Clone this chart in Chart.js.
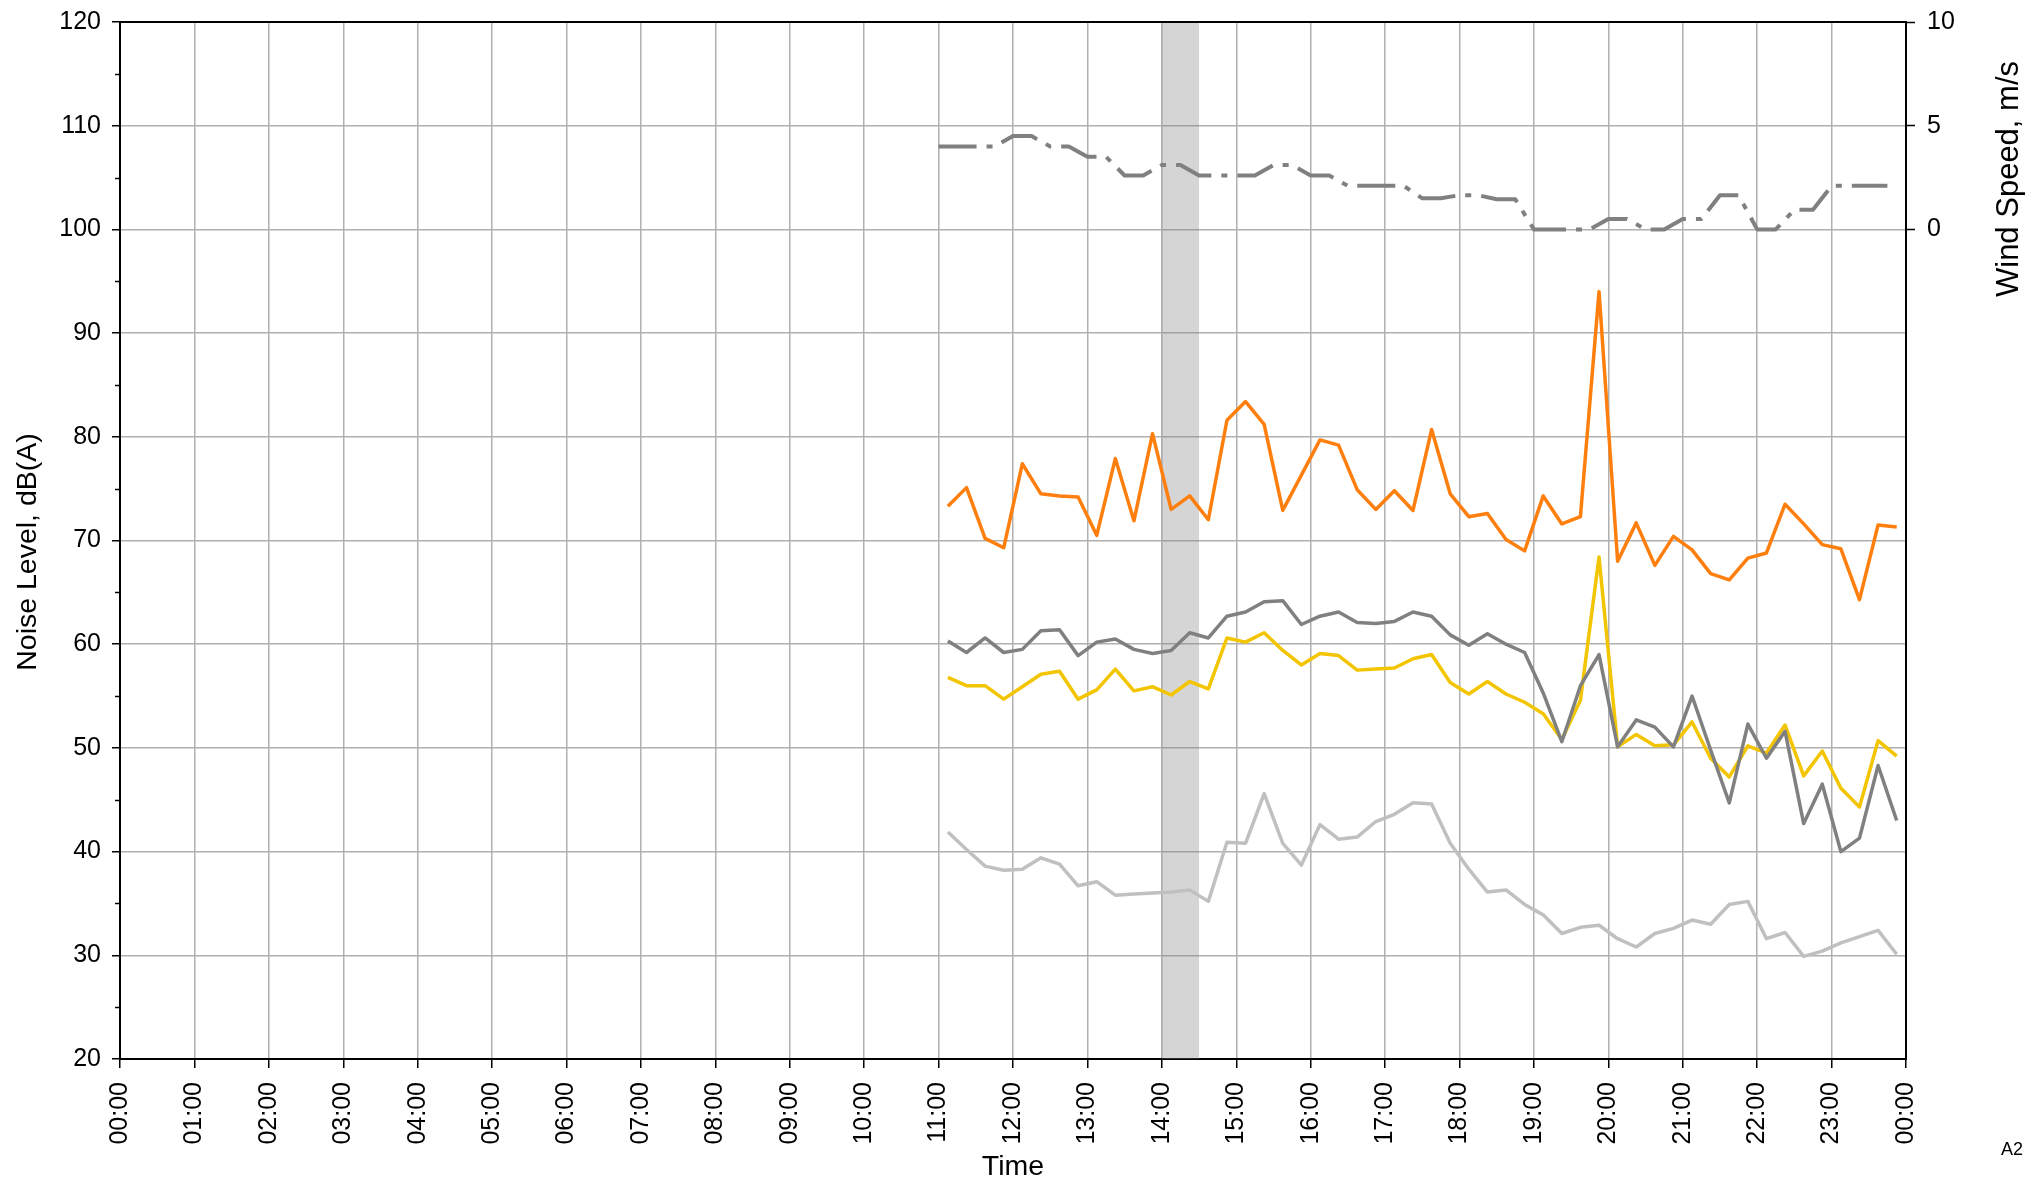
<!DOCTYPE html>
<html>
<head>
<meta charset="utf-8">
<script src="https://cdn.jsdelivr.net/npm/chart.js@4.4.1/dist/chart.umd.min.js"></script>
<style>
  body { margin: 0; background: #fff; }
  #wrap { position: relative; width: 2025px; height: 1180px; }
  #tag { position: absolute; left: 2001px; top: 1139px; font: 18px "Liberation Sans", Arial, sans-serif; color: #000; }
</style>
</head>
<body>
<div id="wrap">
  <canvas id="noiseChart" width="2025" height="1180"></canvas>
  <div id="tag">A2</div>
</div>
<script>
// hour tick labels along the time axis
const tickLabels = ["00:00", "01:00", "02:00", "03:00", "04:00", "05:00", "06:00", "07:00",
  "08:00", "09:00", "10:00", "11:00", "12:00", "13:00", "14:00", "15:00", "16:00",
  "17:00", "18:00", "19:00", "20:00", "21:00", "22:00", "23:00", "00:00"];

// 15 minute intervals, noise centred at 11:07:30, wind logged on the quarter hour
const noiseStart = 11.125;
const windStart = 11.0;
const stepHours = 0.25;

// dB(A)
const laMax = [73.3, 75.1, 70.2, 69.3, 77.4, 74.5, 74.3, 74.2, 70.5, 77.9, 71.9, 80.3, 73.0, 74.3, 72.0, 81.6, 83.4, 81.2,
  72.9, 76.3, 79.7, 79.2, 74.9, 73.0, 74.8, 72.9, 80.7, 74.5, 72.3, 72.6, 70.1, 69.0, 74.3, 71.6, 72.3,
  94.0, 68.0, 71.7, 67.6, 70.4, 69.1, 66.8, 66.2, 68.3, 68.8, 73.5, 71.6, 69.6, 69.2, 64.3, 71.5, 71.3];
const laEq = [60.3, 59.2, 60.6, 59.2, 59.5, 61.3, 61.4, 58.9, 60.2, 60.5, 59.5, 59.1, 59.4, 61.1, 60.6, 62.7, 63.1, 64.1,
  64.2, 61.9, 62.7, 63.1, 62.1, 62.0, 62.2, 63.1, 62.7, 60.9, 59.9, 61.0, 60.0, 59.2, 55.3, 50.6, 56.0,
  59.0, 50.1, 52.7, 52.0, 50.1, 55.0, 49.8, 44.7, 52.3, 49.0, 51.6, 42.7, 46.5, 40.0, 41.3, 48.3, 43.0];
const la10 = [56.8, 56.0, 56.0, 54.7, 55.9, 57.1, 57.4, 54.7, 55.6, 57.6, 55.5, 55.9, 55.1, 56.4, 55.7, 60.6, 60.2, 61.1,
  59.4, 58.0, 59.1, 58.9, 57.5, 57.6, 57.7, 58.6, 59.0, 56.3, 55.2, 56.4, 55.2, 54.4, 53.3, 50.8, 54.6,
  68.4, 50.1, 51.3, 50.2, 50.3, 52.5, 49.0, 47.2, 50.2, 49.5, 52.2, 47.3, 49.7, 46.1, 44.3, 50.7, 49.2];
const la90 = [41.9, 40.2, 38.6, 38.2, 38.3, 39.4, 38.8, 36.7, 37.1, 35.8, 35.9, 36.0, 36.1, 36.3, 35.2, 40.9, 40.8, 45.6,
  40.8, 38.7, 42.6, 41.2, 41.4, 42.9, 43.6, 44.7, 44.6, 40.8, 38.3, 36.1, 36.3, 34.9, 33.9, 32.1, 32.7,
  32.9, 31.6, 30.8, 32.1, 32.6, 33.4, 33.0, 34.9, 35.2, 31.6, 32.2, 29.9, 30.4, 31.2, 31.8, 32.4, 30.1];

// m/s
const windSpeed = [4.0, 4.0, 4.0, 4.0, 4.5, 4.5, 4.0, 4.0, 3.5, 3.5, 2.6, 2.6, 3.1, 3.1, 2.6, 2.6, 2.6, 2.6,
  3.1, 3.1, 2.6, 2.6, 2.1, 2.1, 2.1, 2.1, 1.5, 1.5, 1.65, 1.65, 1.45, 1.45, 0, 0, 0, 0,
  0.5, 0.5, 0, 0, 0.5, 0.5, 1.65, 1.65, 0, 0, 0.95, 0.95, 2.1, 2.1, 2.1, 2.1];

// shaded period, hours
const shadeFrom = 14.0;
const shadeTo = 14.5;

const toPoints = (values, start) => values.map((v, i) => ({ x: start + i * stepHours, y: v }));

const fontStack = "'Liberation Sans', Arial, sans-serif";
Chart.defaults.font.family = fontStack;
Chart.defaults.color = "#000";

// keep the plot box at a fixed place, no extra room for half labels
const fixBox = (size) => (s) => {
  if (s.isHorizontal()) s.height = size; else s.width = size;
  s.paddingTop = 0; s.paddingBottom = 0; s.paddingLeft = 0; s.paddingRight = 0;
};

const shadePlugin = {
  id: "shade",
  beforeDatasetsDraw(chart) {
    const { ctx, chartArea } = chart;
    const x = chart.scales.x;
    const x0 = x.getPixelForValue(shadeFrom);
    const x1 = x.getPixelForValue(shadeTo);
    ctx.save();
    ctx.fillStyle = "rgba(128, 128, 128, 0.33)";
    ctx.fillRect(x0, chartArea.top, x1 - x0, chartArea.bottom - chartArea.top);
    ctx.restore();
  },
};

const sideTitle = (ctx, text, size, x, y) => {
  ctx.save();
  ctx.font = size + "px " + fontStack;
  ctx.fillStyle = "#000";
  ctx.textAlign = "center";
  ctx.textBaseline = "middle";
  ctx.translate(x, y);
  ctx.rotate(-Math.PI / 2);
  ctx.fillText(text, 0, 0);
  ctx.restore();
};

const framePlugin = {
  id: "frame",
  afterDraw(chart) {
    const { ctx, chartArea } = chart;
    const y = chart.scales.y;
    ctx.save();
    ctx.strokeStyle = "#000";
    ctx.lineWidth = 2;
    ctx.beginPath();
    ctx.moveTo(chartArea.left, chartArea.top);
    ctx.lineTo(chartArea.right, chartArea.top);
    ctx.stroke();
    // minor ticks on the noise axis
    ctx.lineWidth = 1.5;
    for (let v = 25; v < 120; v += 10) {
      const py = Math.round(y.getPixelForValue(v)) + 0.5;
      ctx.beginPath();
      ctx.moveTo(chartArea.left, py);
      ctx.lineTo(chartArea.left - 5, py);
      ctx.stroke();
    }
    ctx.restore();
    sideTitle(ctx, "Noise Level, dB(A)", 28.5, 28, 552);
    // right axis title sits beside the wind range only
    sideTitle(ctx, "Wind Speed, m/s", 31, 2009, 179);
  },
};

const ctx = document.getElementById("noiseChart").getContext("2d");
new Chart(ctx, {
  type: "line",
  data: {
    datasets: [
      { label: "LAmax", data: toPoints(laMax, noiseStart), borderColor: "#ff7f0e", borderWidth: 3.5, yAxisID: "y" },
      { label: "LAeq", data: toPoints(laEq, noiseStart), borderColor: "#808080", borderWidth: 3.5, yAxisID: "y" },
      { label: "LA10", data: toPoints(la10, noiseStart), borderColor: "#f2c500", borderWidth: 3.5, yAxisID: "y" },
      { label: "LA90", data: toPoints(la90, noiseStart), borderColor: "#c0c0c0", borderWidth: 3.5, yAxisID: "y" },
      {
        label: "Wind Speed",
        data: toPoints(windSpeed, windStart),
        borderColor: "#808080",
        borderWidth: 4,
        borderDash: [38, 10, 6, 10],
        borderCapStyle: "butt",
        yAxisID: "y2",
      },
    ],
  },
  options: {
    responsive: false,
    devicePixelRatio: 1,
    animation: false,
    layout: { padding: { top: 22, left: 0, right: 0, bottom: 0 } },
    elements: {
      point: { radius: 0 },
      line: { tension: 0, borderJoinStyle: "round", fill: false },
    },
    plugins: { legend: { display: false }, tooltip: { enabled: false } },
    scales: {
      x: {
        type: "linear",
        min: 0,
        max: 24,
        afterFit: fixBox(121),
        afterBuildTicks: (s) => { s.ticks = tickLabels.map((_, i) => ({ value: i })); },
        ticks: {
          autoSkip: false,
          maxRotation: 90,
          minRotation: 90,
          padding: 14,
          font: { size: 25 },
          callback: (v, i) => tickLabels[i],
        },
        grid: { color: "#b0b0b0", lineWidth: 1.5, tickColor: "#000", tickLength: 9, tickWidth: 1.5 },
        border: { color: "#000", width: 2 },
        title: { display: true, text: "Time", font: { size: 28.5, lineHeight: 0.9 }, padding: 0 },
      },
      y: {
        position: "left",
        min: 20,
        max: 120,
        afterFit: fixBox(120),
        ticks: { stepSize: 10, padding: 11, font: { size: 25 } },
        grid: { color: "#b0b0b0", lineWidth: 1.5, tickColor: "#000", tickLength: 8, tickWidth: 1.5 },
        border: { color: "#000", width: 2 },
      },
      y2: {
        position: "right",
        min: -40,
        max: 10,
        afterFit: fixBox(119),
        afterBuildTicks: (s) => { s.ticks = [0, 5, 10].map((v) => ({ value: v })); },
        ticks: { padding: 12, font: { size: 25 } },
        grid: { drawOnChartArea: false, tickColor: "#000", tickLength: 9, tickWidth: 1.5 },
        border: { color: "#000", width: 2 },
      },
    },
  },
  plugins: [shadePlugin, framePlugin],
});
</script>
</body>
</html>
